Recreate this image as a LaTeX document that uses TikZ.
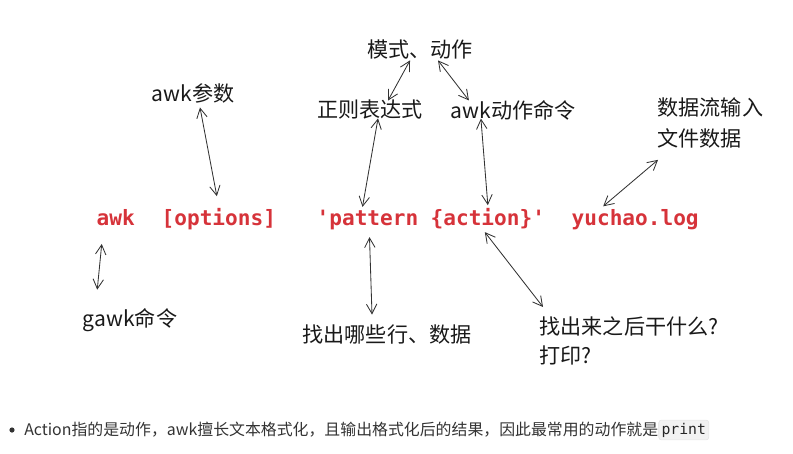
\documentclass[tikz,border=0pt]{standalone}
\usepackage{fontspec}
\usepackage{tikz}
\usetikzlibrary{arrows.meta,calc}
\newfontfamily\cjk{Noto Sans CJK SC}
\newfontfamily\codefont{DejaVu Sans Mono}
\definecolor{codered}{RGB}{214,51,58}
\definecolor{bixian}{RGB}{50,50,50}

\begin{document}
\begin{tikzpicture}[
    x=0.025cm, y=-0.025cm,
    >={Straight Barb[length=2.4mm,width=2.6mm]},
    font=\cjk\fontsize{15}{22}\selectfont,
    biaoqian/.style={
        inner sep=1pt,
        text=black!90
    },
    daima/.style={
        anchor=base west,
        inner sep=1pt,
        text=codered,
        font=\codefont\bfseries\fontsize{15}{18}\selectfont
    },
    jiantou/.style={<->, bixian, line width=0.6pt}
]
    \useasboundingbox (0,0) rectangle (793,453);

    % the command line
    \node[daima] (awk) at (95,225) {awk};
    \node[daima] (options) at (160,225) {[options]};
    \node[daima] (pattern) at (315,225) {\textquotesingle pattern};
    \node[daima] (action) at (429,225) {\{action\}\textquotesingle};
    \node[daima] (logfile) at (570,225) {yuchao.log};

    % notes around it
    \node[biaoqian] (moshi) at (420,50) {模式、动作};
    \node[biaoqian] (canshu) at (193,93) {awk参数};
    \node[biaoqian] (zhengze) at (370,110) {正则表达式};
    \node[biaoqian] (mingling) at (513,110) {awk动作命令};
    \node[biaoqian, align=left, anchor=north west] (shuru) at (656,96)
        {数据流输入\\文件数据};
    \node[biaoqian] (gawk) at (130,320) {gawk命令};
    \node[biaoqian] (zhaochu) at (387,335) {找出哪些行、数据};
    \node[biaoqian, align=left, anchor=north west,
        font=\cjk\fontsize{15}{20.5}\selectfont] (ganshenme) at (538,315)
        {找出来之后干什么?\\打印?};

    \draw[jiantou] ($(canshu.south)+(7,3)$) -- ($(options.north)+(-2,-10)$);
    \draw[jiantou] ($(moshi.south)+(-10,-1)$) -- ($(zhengze.north)+(18,2)$);
    \draw[jiantou] ($(moshi.south)+(18,-1)$) -- ($(mingling.north west)+(20,2)$);
    \draw[jiantou] ($(zhengze.south)+(8,-3)$) -- ($(pattern.north)+(-5,-1)$);
    \draw[jiantou] ($(mingling.south west)+(32,-3)$) -- ($(action.north)+(0,-1)$);
    \draw[jiantou] ($(shuru.south west)+(2,10)$) -- ($(logfile.north)+(-32,-1)$);
    \draw[jiantou] ($(awk.south)+(-14,17)$) -- ($(gawk.north west)+(16,-17)$);
    \draw[jiantou] ($(pattern.south)+(2,6)$) -- ($(zhaochu.north)+(-15,-9)$);
    \draw[jiantou] ($(action.south)+(-3,2)$) -- ($(ganshenme.north west)+(5,-8)$);

    % the remark below
    \fill[black!80] (12,430) circle (2.6);
    \node[anchor=west, inner sep=0pt, text=black!80,
        font=\cjk\fontsize{11.3}{13}\selectfont] (shuoming) at (24,430)
        {Action指的是动作，awk擅长文本格式化，且输出格式化后的结果，因此最常用的动作就是};
    \node[anchor=west, inner sep=2pt, fill=gray!10, draw=gray!20,
        rounded corners=2pt, text=black!85,
        font=\codefont\fontsize{10.5}{12}\selectfont] (print) at (shuoming.east) {print};
\end{tikzpicture}
\end{document}
